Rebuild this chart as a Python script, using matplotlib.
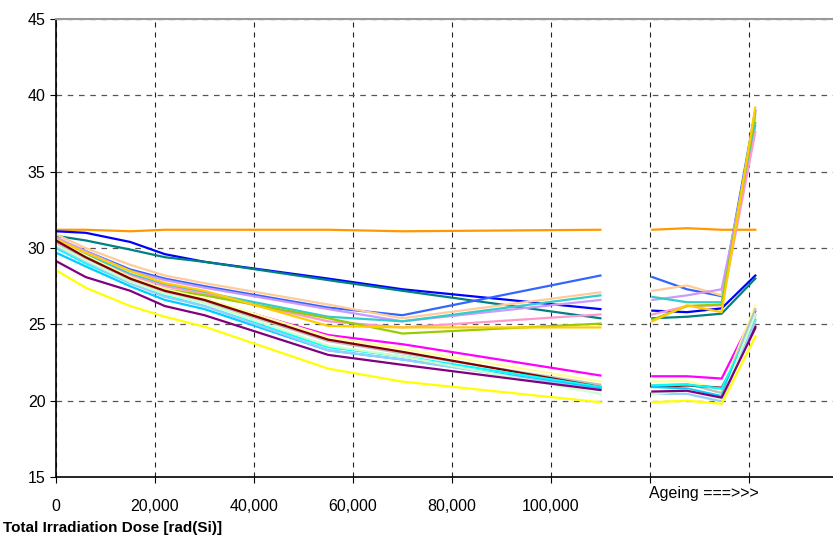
import matplotlib.pyplot as plt

plt.rcParams['font.family'] = ['Liberation Sans', 'DejaVu Sans']

# dose steps of the irradiation part and x positions of the ageing points
dose = [0, 6000, 15000, 22000, 30000, 55000, 70000, 110000]
ageing_x = [120500, 127500, 134500, 141300]

colors = ['#FF9900', '#0000FF', '#008080', '#3366FF', '#FFCC99',
          '#CC99FF', '#33CCCC', '#FF99CC', '#99CC00', '#FFCC00',
          '#FF00FF', '#FFFF99', '#C0C0C0', '#800000', '#00FFFF',
          '#00CCFF', '#99CCFF', '#CCFFCC', '#800080', '#FFFF00']

# values during irradiation (one list per device)
irr = [
    [31.2, 31.2, 31.1, 31.2, 31.2, 31.2, 31.1, 31.2],
    [31.1, 31.0, 30.4, 29.6, 29.1, 28.0, 27.3, 26.0],
    [30.8, 30.5, 29.9, 29.4, 29.1, 27.9, 27.2, 25.4],
    [30.6, 29.8, 28.6, 28.0, 27.5, 26.1, 25.6, 28.2],
    [30.9, 30.0, 28.9, 28.2, 27.7, 26.3, 25.4, 27.1],
    [30.7, 29.8, 28.5, 27.9, 27.4, 26.0, 25.2, 26.6],
    [30.5, 29.6, 28.3, 27.6, 27.1, 25.5, 25.2, 26.9],
    [30.3, 29.4, 28.2, 27.5, 27.0, 25.2, 24.8, 25.65],
    [30.2, 29.2, 27.9, 27.3, 26.9, 25.4, 24.4, 25.05],
    [30.6, 29.7, 28.5, 27.7, 27.2, 24.9, 24.8, 24.8],
    [30.4, 29.4, 28.0, 27.2, 26.6, 24.3, 23.7, 21.65],
    [30.5, 29.5, 28.1, 27.3, 26.7, 24.2, 23.4, 21.25],
    [30.3, 29.3, 27.9, 27.1, 26.5, 23.9, 23.1, 21.05],
    [30.5, 29.4, 28.0, 27.2, 26.6, 24.0, 23.2, 20.9],
    [30.0, 29.0, 27.7, 26.9, 26.2, 23.5, 22.9, 20.9],
    [29.7, 28.8, 27.5, 26.6, 26.0, 23.3, 22.7, 20.8],
    [30.1, 29.1, 27.7, 26.8, 26.2, 23.3, 22.7, 20.7],
    [30.2, 29.2, 27.8, 27.0, 26.4, 23.6, 22.9, 20.45],
    [29.15, 28.1, 27.2, 26.2, 25.6, 23.0, 22.35, 20.7],
    [28.55, 27.4, 26.2, 25.5, 24.85, 22.1, 21.25, 19.9],
]

# values during ageing
age = [
    [31.2, 31.3, 31.2, 31.2],
    [25.9, 25.8, 26.05, 28.2],
    [25.4, 25.5, 25.7, 28.0],
    [28.1, 27.3, 26.85, 39.0],
    [27.2, 27.55, 26.9, 38.5],
    [26.6, 26.9, 27.3, 38.0],
    [26.8, 26.45, 26.45, 38.2],
    [25.65, 26.2, 26.25, 37.6],
    [25.3, 26.2, 26.3, 38.8],
    [25.2, 26.25, 25.8, 39.2],
    [21.6, 21.6, 21.45, 25.85],
    [21.25, 21.3, 20.7, 26.25],
    [21.0, 21.1, 20.5, 26.0],
    [20.9, 21.0, 20.85, 24.85],
    [21.0, 21.05, 20.8, 25.3],
    [20.9, 20.8, 20.3, 25.6],
    [20.45, 20.45, 19.95, 25.2],
    [20.4, 20.7, 20.1, 25.65],
    [20.6, 20.65, 20.2, 24.75],
    [19.9, 20.0, 19.8, 24.2],
]

xticks = [0, 20000, 40000, 60000, 80000, 100000, 120000, 140000]
xlabels = ['0', '20,000', '40,000', '60,000', '80,000', '100,000', '', '']
yticks = [15, 20, 25, 30, 35, 40, 45]

fig = plt.figure(figsize=(8.33, 5.47), dpi=100)
ax = fig.add_axes([0.0672, 0.128, 0.9328, 0.837])

for c, a, b in zip(colors, irr, age):
    ax.plot(dose, a, color=c, lw=1.6)
    ax.plot(ageing_x, b, color=c, lw=1.6)

ax.set_xlim(0, 157000)
ax.set_ylim(15, 45)
ax.set_xticks(xticks)
ax.set_xticklabels(xlabels)
ax.set_yticks(yticks)
ax.tick_params(labelsize=11.5, length=4, color='black')
ax.tick_params(axis='x', pad=12)

ax.grid(True, axis='x', color='#222222', linestyle=(0, (4.5, 4.5)), linewidth=0.8)
ax.grid(True, axis='y', color='#555555', linestyle=(0, (4.5, 4.5)), linewidth=0.9)
ax.set_axisbelow(True)

ax.spines['right'].set_visible(False)
ax.spines['top'].set_color('#999999')
ax.spines['top'].set_linewidth(1.5)
ax.spines['left'].set_linewidth(1.2)
ax.spines['bottom'].set_linewidth(1.2)

ax.text(0.763, -0.02, 'Ageing ===>>>', transform=ax.transAxes,
        fontsize=11.5, va='top', ha='left')
fig.text(0.004, 0.035, 'Total Irradiation Dose [rad(Si)]', fontsize=11,
         fontweight='bold', ha='left', va='center')

fig.savefig('out.png', dpi=100)
